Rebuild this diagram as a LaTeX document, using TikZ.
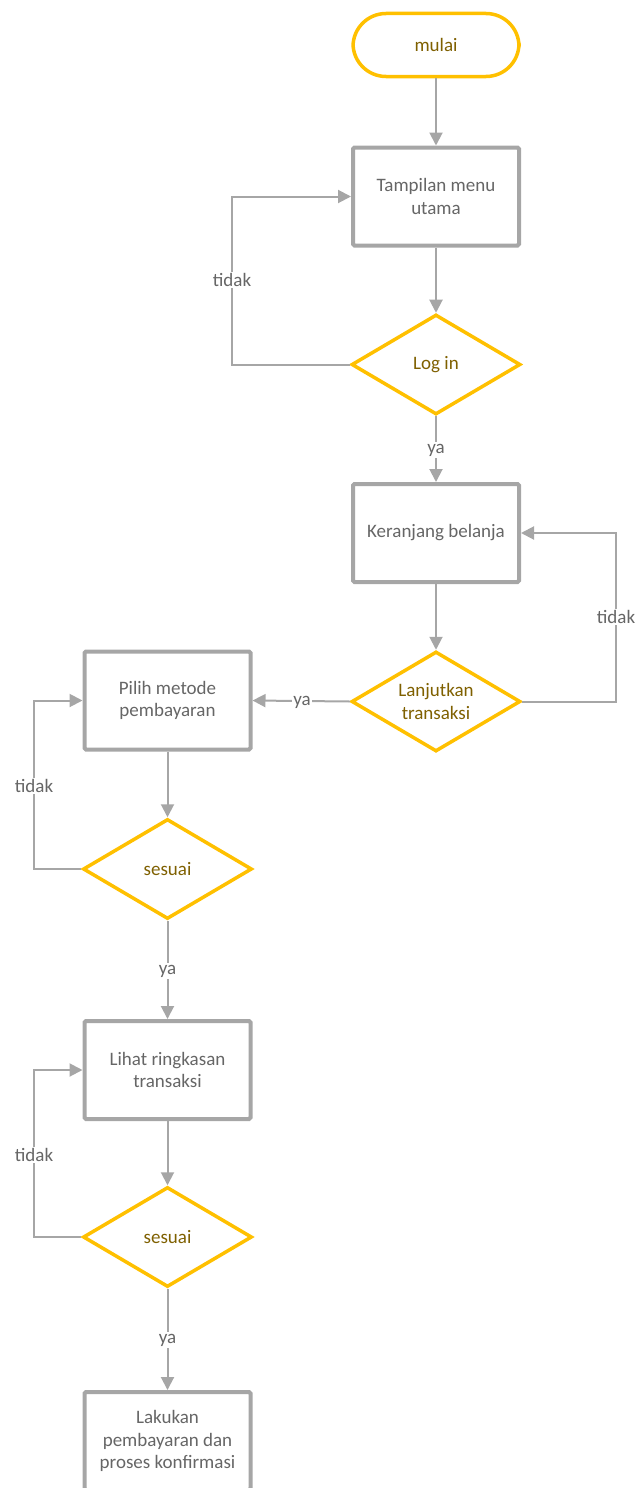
\documentclass[tikz,border=0pt]{standalone}
\usepackage{fontspec}
\setmainfont{Carlito}
\usetikzlibrary{arrows.meta,shapes.geometric}
\definecolor{linegray}{HTML}{A6A6A6}
\definecolor{gold}{HTML}{FFC000}
\definecolor{goldtext}{HTML}{7F6000}
\definecolor{bodytext}{HTML}{666666}
\tikzset{
  every node/.style={font=\fontsize{19}{22.5}\selectfont},
  terminal/.style={draw=gold, line width=3.5pt, fill=white, rounded corners=33pt,
    minimum width=166pt, minimum height=63pt, text=goldtext, inner sep=0pt},
  process/.style={draw=linegray, line width=4pt, fill=white, rounded corners=1.5pt,
    minimum width=166pt, minimum height=98pt, text=bodytext, align=center, inner sep=0pt},
  % fixed-size diamond; its text is set as a centred label so it cannot grow
  decision/.style={draw=gold, line width=3.5pt, fill=white, shape=diamond,
    minimum width=169pt, minimum height=100pt, inner sep=0pt,
    label={[text=goldtext, align=center]center:#1}},
  flow/.style={draw=linegray, line width=2pt, -{Triangle[length=13pt,width=13pt]}},
  tag/.style={fill=white, text=bodytext, inner sep=1.5pt}
}
\begin{document}
\begin{tikzpicture}[x=1pt,y=-1pt]
\useasboundingbox (0,0) rectangle (640,1488);
\clip (0,0) rectangle (640,1488);

% nodes
\node[terminal] (start) at (436,45) {mulai};
\node[process] (menu) at (436,196.5) {Tampilan menu\\utama};
\node[decision={Log in}] (login) at (436,364.5) {};
\node[process] (cart) at (436,533) {Keranjang belanja};
\node[decision={Lanjutkan\\transaksi}] (cont) at (436,701.5) {};
\node[process] (method) at (167.5,700.5) {Pilih metode\\pembayaran};
\node[decision={sesuai}] (ok1) at (167.5,869) {};
\node[process] (summary) at (167.5,1070) {Lihat ringkasan\\transaksi};
\node[decision={sesuai}] (ok2) at (167.5,1237) {};
\node[process] (pay) at (167.5,1441) {Lakukan\\pembayaran dan\\proses konfirmasi};

% connectors
\draw[flow] (start) -- (menu);
\draw[flow] (menu) -- (login);
\draw[flow] (login.west) -- (232,364.5) |- (menu.west);
\node[tag] (t1) at (232,280) {tidak};
\draw[flow] (login) -- (cart);
\node[tag] (y1) at (436,450) {ya};
\draw[flow] (cart) -- (cont);
\draw[flow] (cont.east) -- (616,701.5) |- (cart.east);
\node[tag] (t2) at (616,617) {tidak};
\draw[flow] (cont.west) -- (method.east);
\node[tag] (y2) at (302,702) {ya};
\draw[flow] (method) -- (ok1);
\draw[flow] (ok1.west) -- (34,869) |- (method.west);
\node[tag] (t3) at (34,786) {tidak};
\draw[flow] (ok1) -- (summary);
\node[tag] (y3) at (167.5,971) {ya};
\draw[flow] (summary) -- (ok2);
\draw[flow] (ok2.west) -- (34,1237) |- (summary.west);
\node[tag] (t4) at (34,1155) {tidak};
\draw[flow] (ok2) -- (pay);
\node[tag] (y4) at (167.5,1340) {ya};
\end{tikzpicture}
\end{document}
